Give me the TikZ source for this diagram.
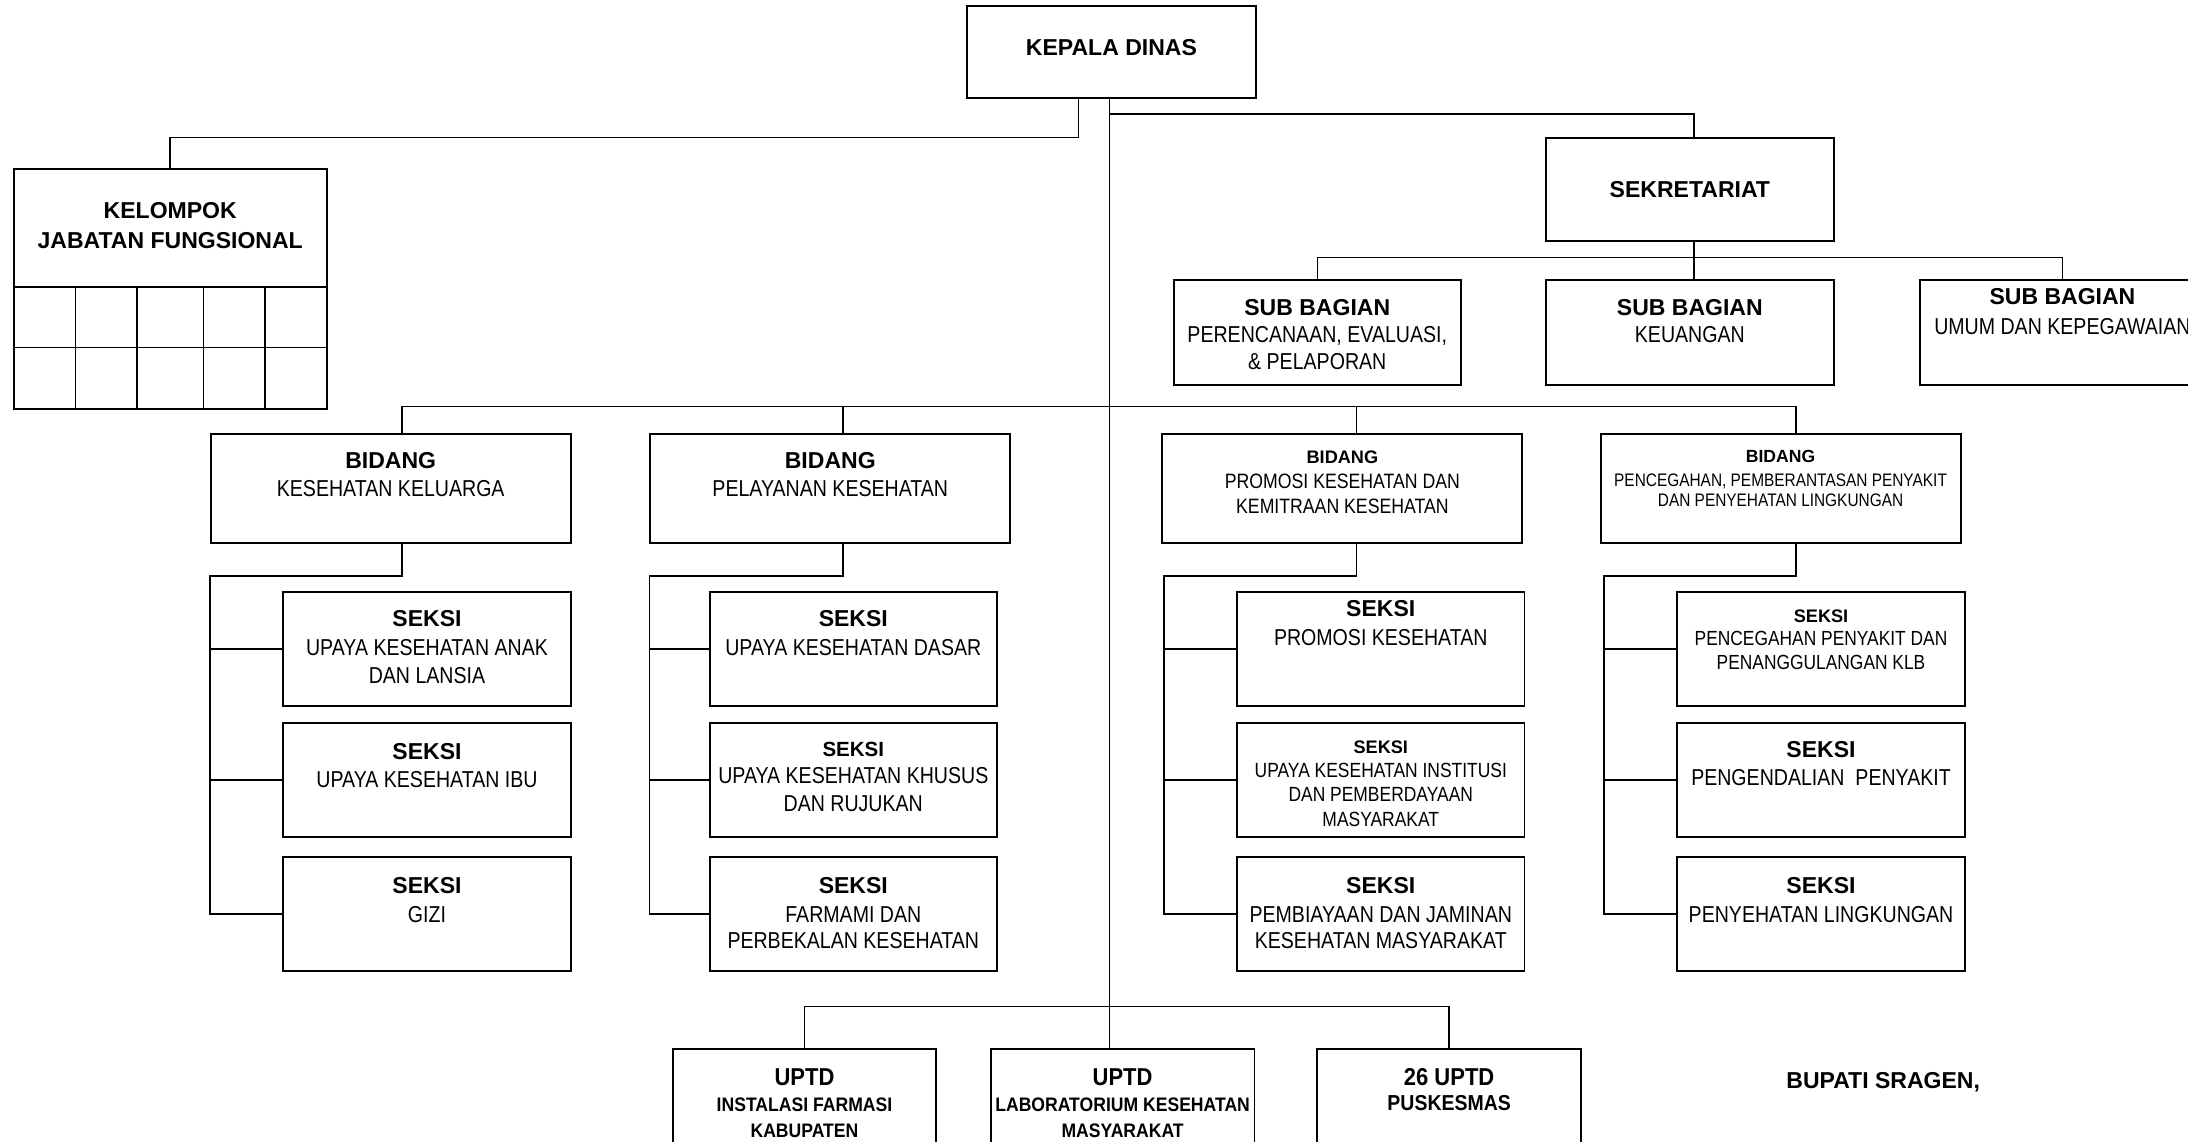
\documentclass[tikz,border=0pt]{standalone}
\usepackage{fontspec}
\setmainfont{Liberation Sans}
\newfontfamily\nf[FakeStretch=0.85]{Liberation Sans}
\newfontfamily\cbf[FakeStretch=0.9]{Liberation Sans}
\usetikzlibrary{calc}
\newcommand\fsz[2]{\fontsize{#1}{#2}\selectfont}
\newcommand\nfs[1]{\nf\fontsize{#1}{#1}\selectfont}
\newcommand\bfs[1]{\bfseries\fontsize{#1}{#1}\selectfont}
\newcommand\cbs[1]{\cbf\bfseries\fontsize{#1}{#1}\selectfont}
\lineskiplimit=-50pt
\lineskip=0pt
\begin{document}
\begin{tikzpicture}[x=1pt,y=-1pt,
  bx/.style={draw, line width=1.4pt, inner sep=0pt},
  kbox/.style={minimum width=207pt, minimum height=66pt},
  subbox/.style={minimum width=206pt, minimum height=75pt},
  bidbox/.style={minimum width=258pt, minimum height=78pt},
  sekbox/.style={minimum width=206pt, minimum height=82pt},
  uptdbox/.style={minimum width=189pt, minimum height=92pt},
  ln/.style={line width=1.1pt},
  txt/.style={anchor=base, align=center, inner sep=0pt, font=\fsz{16.5}{20}}
]
\useasboundingbox (0,0) rectangle (1568,818);
\clip (0,0) rectangle (1568,818);

% ---------- boxes ----------
\node[bx, kbox] (kd) at (796.5,37) {};
\node[bx, minimum width=224pt, minimum height=172pt] (kel) at (122,207) {};
\node[bx, minimum width=206pt, minimum height=74pt] (sek) at (1211,136) {};
\node[bx, subbox] (sb1) at (944,238.5) {};
\node[bx, subbox] (sb2) at (1211,238.5) {};
\node[bx, subbox, minimum width=204pt] (sb3) at (1478,238.5) {};

\node[bx, bidbox] (b1) at (280,350) {};
\node[bx, bidbox] (b2) at (595,350) {};
\node[bx, bidbox] (b3) at (962,350) {};
\node[bx, bidbox] (b4) at (1276,350) {};

\node[bx, sekbox] (s11) at (306,465) {};
\node[bx, sekbox] (s12) at (306,559) {};
\node[bx, sekbox] (s13) at (306,655) {};
\node[bx, sekbox] (s21) at (611.5,465) {};
\node[bx, sekbox] (s22) at (611.5,559) {};
\node[bx, sekbox] (s23) at (611.5,655) {};
\node[bx, sekbox] (s31) at (989.5,465) {};
\node[bx, sekbox] (s32) at (989.5,559) {};
\node[bx, sekbox] (s33) at (989.5,655) {};
\node[bx, sekbox] (s41) at (1305,465) {};
\node[bx, sekbox] (s42) at (1305,559) {};
\node[bx, sekbox] (s43) at (1305,655) {};

\node[bx, uptdbox] (u1) at (576.5,798) {};
\node[bx, uptdbox] (u2) at (804.5,798) {};
\node[bx, uptdbox] (u3) at (1038.5,798) {};

% kelompok grid
\draw[line width=1.4pt] (10,205.5) -- (234,205.5);
\draw[line width=1.2pt] (10,249) -- (234,249);
\foreach \gx in {54,98,146,190} \draw[line width=1.1pt] (\gx,205.5) -- (\gx,293);

% ---------- connectors ----------
\coordinate (tt) at ([xshift=-1.5pt]kd.south);
\draw[ln] (tt) -- (tt |- u2.north);
\draw[ln] ([xshift=-23.5pt]kd.south) -- ++(0,28) -| (kel.north);
\draw[ln] (tt) ++(0,11) -| ([xshift=3pt]sek.north);
\draw[ln] ([xshift=3pt]sek.south) -- ++(0,11) coordinate (sbb);
\draw[ln] (sb1.north) |- (sbb) -| (sb3.north);
\draw[ln] (sbb) -- ([xshift=3pt]sb2.north);

\coordinate (d1) at ([xshift=8pt]b1.north);
\coordinate (d2) at ([xshift=9pt]b2.north);
\coordinate (d3) at ([xshift=10pt]b3.north);
\coordinate (d4) at ([xshift=11pt]b4.north);
\draw[ln] (d1) -- ++(0,-19) -| (d4);
\draw[ln] (d2) -- ++(0,-19);
\draw[ln] (d3) -- ++(0,-19);

\draw[ln] (d1 |- b1.south) -- ++(0,23) -| (b1.west |- s13.west) -- (s13.west);
\draw[ln] (b1.west |- s11.west) -- (s11.west);
\draw[ln] (b1.west |- s12.west) -- (s12.west);
\draw[ln] (d2 |- b2.south) -- ++(0,23) -| (b2.west |- s23.west) -- (s23.west);
\draw[ln] (b2.west |- s21.west) -- (s21.west);
\draw[ln] (b2.west |- s22.west) -- (s22.west);
\draw[ln] (d3 |- b3.south) -- ++(0,23) -| ([xshift=2pt]b3.west |- s33.west) -- (s33.west);
\draw[ln] ([xshift=2pt]b3.west |- s31.west) -- (s31.west);
\draw[ln] ([xshift=2pt]b3.west |- s32.west) -- (s32.west);
\draw[ln] (d4 |- b4.south) -- ++(0,23) -| ([xshift=3pt]b4.west |- s43.west) -- (s43.west);
\draw[ln] ([xshift=3pt]b4.west |- s41.west) -- (s41.west);
\draw[ln] ([xshift=3pt]b4.west |- s42.west) -- (s42.west);

\draw[ln] (u1.north) -- ++(0,-30) coordinate (ub) -- (ub -| u3.north) -- (u3.north);

% ---------- texts (anchor = baseline of the last line) ----------
\node[txt, font=\fsz{16.5}{20}\bfseries] (tkd) at ([yshift=-36.6pt]kd.north) {KEPALA DINAS};
\node[txt, font=\fsz{16.5}{22}\bfseries] (tkel) at ([yshift=-58pt]kel.north) {KELOMPOK\\JABATAN FUNGSIONAL};
\node[txt, font=\fsz{16.5}{20}\bfseries] (tsek) at ([yshift=-43pt]sek.north) {SEKRETARIAT};
\node[txt] (tsb1) at ([yshift=-64.7pt]sb1.north) {{\bfseries SUB BAGIAN}\\{\nf PERENCANAAN, EVALUASI,}\\[-0.8pt]{\nf \& PELAPORAN}};
\node[txt] (tsb2) at ([yshift=-45.5pt]sb2.north) {{\bfseries SUB BAGIAN}\\{\nf KEUANGAN}};
\node[txt] (tsb3) at ([yshift=-39.5pt]sb3.north) {{\bfseries SUB BAGIAN}\\[1.5pt]{\nf UMUM DAN KEPEGAWAIAN}};

\node[txt] (tb1) at ([yshift=-45.8pt]b1.north) {{\bfseries BIDANG}\\{\nf KESEHATAN KELUARGA}};
\node[txt] (tb2) at ([yshift=-45.8pt]b2.north) {{\bfseries BIDANG}\\{\nf PELAYANAN KESEHATAN}};
\node[txt, font=\fsz{13}{17.8}] (tb3) at ([yshift=-57.4pt]b3.north) {{\bfseries BIDANG}\\{\nfs{14.9}PROMOSI KESEHATAN DAN}\\{\nfs{14.9}KEMITRAAN KESEHATAN}};
\node[txt, font=\fsz{12.6}{14.5}] (tb4) at ([yshift=-53pt]b4.north) {{\bfseries BIDANG}\\[2.8pt]{\nfs{13}PENCEGAHAN, PEMBERANTASAN PENYAKIT}\\{\nfs{13}DAN PENYEHATAN LINGKUNGAN}};

\node[txt, font=\fsz{16.5}{20.4}] (t11) at ([yshift=-66.6pt]s11.north) {{\bfseries SEKSI}\\{\nf UPAYA KESEHATAN ANAK}\\{\nf DAN LANSIA}};
\node[txt, font=\fsz{16.5}{19.5}] (t12) at ([yshift=-46.7pt]s12.north) {{\bfseries SEKSI}\\{\nf UPAYA KESEHATAN IBU}};
\node[txt, font=\fsz{16.5}{20.8}] (t13) at ([yshift=-47.5pt]s13.north) {{\bfseries SEKSI}\\{\nf GIZI}};

\node[txt, font=\fsz{16.5}{21}] (t21) at ([yshift=-46.8pt]s21.north) {{\bfseries SEKSI}\\{\nf UPAYA KESEHATAN DASAR}};
\node[txt, font=\fsz{16.5}{19.5}] (t22) at ([yshift=-64pt]s22.north) {{\bfs{14.7}SEKSI}\\{\nf UPAYA KESEHATAN KHUSUS}\\{\nf DAN RUJUKAN}};
\node[txt, font=\fsz{16.5}{20.8}] (t23) at ([yshift=-66.3pt]s23.north) {{\bfseries SEKSI}\\{\nf FARMAMI DAN}\\[-2pt]{\nf PERBEKALAN KESEHATAN}};

\node[txt, font=\fsz{16.5}{21}] (t31) at ([yshift=-39.4pt]s31.north) {{\bfseries SEKSI}\\{\nf PROMOSI KESEHATAN}};
\node[txt, font=\fsz{13}{17.5}] (t32) at ([yshift=-74.9pt]s32.north) {{\bfseries SEKSI}\\{\nfs{14.7}UPAYA KESEHATAN INSTITUSI}\\{\nfs{14.7}DAN PEMBERDAYAAN}\\{\nfs{14.7}MASYARAKAT}};
\node[txt, font=\fsz{16.5}{20.8}] (t33) at ([yshift=-66.3pt]s33.north) {{\bfseries SEKSI}\\{\nf PEMBIAYAAN DAN JAMINAN}\\[-2pt]{\nf KESEHATAN MASYARAKAT}};

\node[txt, font=\fsz{13}{17}] (t41) at ([yshift=-56.6pt]s41.north) {{\bfseries SEKSI}\\{\nfs{14.65}PENCEGAHAN PENYAKIT DAN}\\{\nfs{14.65}PENANGGULANGAN KLB}};
\node[txt, font=\fsz{16.5}{19.8}] (t42) at ([yshift=-45.5pt]s42.north) {{\bfseries SEKSI}\\{\nf PENGENDALIAN\ \ PENYAKIT}};
\node[txt, font=\fsz{16.5}{20.8}] (t43) at ([yshift=-47.5pt]s43.north) {{\bfseries SEKSI}\\{\nf PENYEHATAN LINGKUNGAN}};

\node[txt, font=\fsz{14}{18.9}] (tu1) at ([yshift=-64.1pt]u1.north) {{\cbs{17.5}UPTD}\\{\cbf\bfseries INSTALASI FARMASI}\\{\cbf\bfseries KABUPATEN}};
\node[txt, font=\fsz{14}{18.9}] (tu2) at ([yshift=-64.1pt]u2.north) {{\cbs{17.5}UPTD}\\{\cbf\bfseries LABORATORIUM KESEHATAN}\\{\cbf\bfseries MASYARAKAT}};
\node[txt, font=\fsz{15.5}{18}] (tu3) at ([yshift=-44.8pt]u3.north) {{\cbs{17.5}26 UPTD}\\{\cbf\bfseries PUSKESMAS}};

\node[anchor=base west, inner sep=0pt, font=\fsz{16.5}{20}\bfseries] (bup) at (1280,780) {BUPATI SRAGEN,};
\end{tikzpicture}
\end{document}
